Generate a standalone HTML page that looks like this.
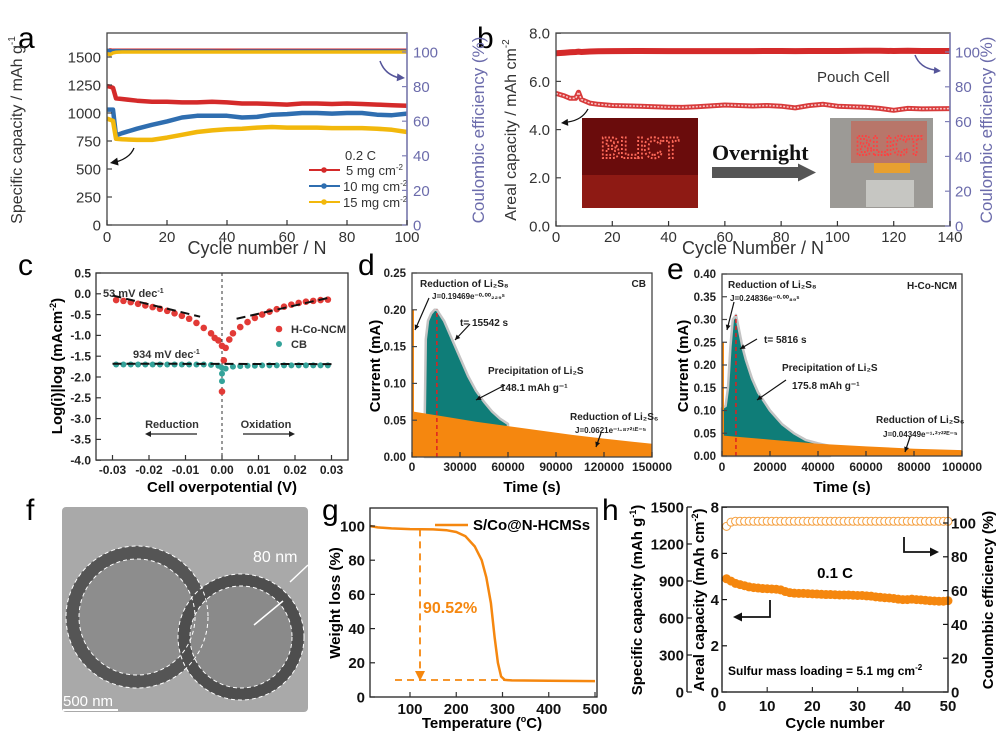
<!DOCTYPE html>
<html><head><meta charset="utf-8"><style>
html,body{margin:0;padding:0;background:#fff;}
svg{display:block;font-family:"Liberation Sans",Arial,sans-serif;}
.b{font-weight:bold;}
</style></head><body>
<svg id="fig" width="1001" height="734" viewBox="0 0 1001 734">
<rect x="0" y="0" width="1001" height="734" fill="#fff"/>
<text x="18" y="48" font-size="30">a</text>
<text x="477" y="48" font-size="30">b</text>
<text x="18" y="275" font-size="30">c</text>
<text x="358" y="275" font-size="30">d</text>
<text x="667" y="279" font-size="30">e</text>
<text x="26" y="520" font-size="30">f</text>
<text x="322" y="520" font-size="30">g</text>
<text x="602" y="520" font-size="30">h</text>

<text transform="rotate(-90 22 130)" x="22" y="130" font-size="16" fill="#333" text-anchor="middle">Specific capacity / mAh g<tspan font-size="10" dy="-7">-1</tspan></text>
<text transform="rotate(-90 484 130)" x="484" y="130" font-size="17" fill="#6b6bab" text-anchor="middle">Coulombic efficiency (%)</text>
<text x="257" y="254" font-size="18" fill="#333" text-anchor="middle">Cycle number / N</text>
<text x="345" y="160" font-size="13" fill="#333">0.2 C</text>
<text x="346" y="175" font-size="13" fill="#333">5 mg cm<tspan font-size="8" dy="-5">-2</tspan></text>
<text x="343" y="191" font-size="13" fill="#333">10 mg cm<tspan font-size="8" dy="-5">-2</tspan></text>
<text x="343" y="207" font-size="13" fill="#333">15 mg cm<tspan font-size="8" dy="-5">-2</tspan></text>

<text transform="rotate(-90 516 130)" x="516" y="130" font-size="16" fill="#333" text-anchor="middle">Areal capacity / mAh cm<tspan font-size="10" dy="-7">-2</tspan></text>
<text transform="rotate(-90 992 130)" x="992" y="130" font-size="17" fill="#6b6bab" text-anchor="middle">Coulombic efficiency (%)</text>
<text x="753" y="254" font-size="18" fill="#333" text-anchor="middle">Cycle Number / N</text>
<text x="817" y="82" font-size="15" fill="#333">Pouch Cell</text>

<text transform="rotate(-90 62 366)" x="62" y="366" font-size="15" class="b" text-anchor="middle">Log(i)|log (mAcm<tspan font-size="9" dy="-6">-2</tspan><tspan dy="6">)</tspan></text>
<text x="222" y="492" font-size="15" class="b" text-anchor="middle">Cell overpotential (V)</text>
<text x="103" y="297" font-size="11" class="b" fill="#333">53 mV dec<tspan font-size="7" dy="-4">-1</tspan></text>
<text x="133" y="358" font-size="11" class="b" fill="#333">934 mV dec<tspan font-size="7" dy="-4">-1</tspan></text>
<text x="291" y="333" font-size="11" class="b" fill="#333">H-Co-NCM</text>
<text x="291" y="348" font-size="11" class="b" fill="#333">CB</text>
<text x="172" y="428" font-size="11" class="b" fill="#333" text-anchor="middle">Reduction</text>
<text x="266" y="428" font-size="11" class="b" fill="#333" text-anchor="middle">Oxidation</text>

<text transform="rotate(-90 380 366)" x="380" y="366" font-size="15" class="b" text-anchor="middle">Current (mA)</text>
<text x="532" y="492" font-size="15" class="b" text-anchor="middle">Time (s)</text>

<text transform="rotate(-90 688 366)" x="688" y="366" font-size="15" class="b" text-anchor="middle">Current (mA)</text>
<text x="842" y="492" font-size="15" class="b" text-anchor="middle">Time (s)</text>

<g>
<rect x="62" y="507" width="246" height="205" rx="4" fill="#a9a9a9"/>
<circle cx="137" cy="617" r="71" fill="#555"/>
<circle cx="137" cy="617" r="58" fill="#8d8d8d"/>
<circle cx="241" cy="637" r="63" fill="#4e4e4e"/>
<circle cx="241" cy="637" r="51" fill="#8a8a8a"/>
<circle cx="137" cy="617" r="71" fill="none" stroke="#fff" stroke-dasharray="4 3" stroke-width="1"/>
<circle cx="137" cy="617" r="58" fill="none" stroke="#fff" stroke-dasharray="4 3" stroke-width="1"/>
<circle cx="241" cy="637" r="63" fill="none" stroke="#fff" stroke-dasharray="4 3" stroke-width="1"/>
<circle cx="241" cy="637" r="51" fill="none" stroke="#fff" stroke-dasharray="4 3" stroke-width="1"/>
<text x="253" y="562" font-size="16" fill="#fff">80 nm</text>
<line x1="308" y1="565" x2="290" y2="582" stroke="#fff" stroke-width="1.5"/>
<line x1="254" y1="625" x2="283" y2="601" stroke="#fff" stroke-width="1.5"/>
<text x="63" y="706" font-size="15" fill="#fff">500 nm</text>
<line x1="63" y1="710" x2="118" y2="710" stroke="#fff" stroke-width="2"/>
</g>

<text transform="rotate(-90 340 603)" x="340" y="603" font-size="15" class="b" text-anchor="middle">Weight loss (%)</text>
<text x="482" y="728" font-size="15" class="b" text-anchor="middle">Temperature (<tspan font-size="9" dy="-6">o</tspan><tspan dy="6">C)</tspan></text>
<text x="473" y="530" font-size="15" class="b">S/Co@N-HCMSs</text>
<text x="423" y="613" font-size="16" class="b" fill="#f5870f">90.52%</text>

<text transform="rotate(-90 642 600)" x="642" y="600" font-size="15" class="b" text-anchor="middle">Specific capacity (mAh g<tspan font-size="9" dy="-6">-1</tspan><tspan dy="6">)</tspan></text>
<text transform="rotate(-90 704 600)" x="704" y="600" font-size="15" class="b" text-anchor="middle">Areal capacity (mAh cm<tspan font-size="9" dy="-6">-2</tspan><tspan dy="6">)</tspan></text>
<text transform="rotate(-90 993 600)" x="993" y="600" font-size="15" class="b" text-anchor="middle">Coulombic efficiency (%)</text>
<text x="835" y="728" font-size="15" class="b" text-anchor="middle">Cycle number</text>
<text x="835" y="578" font-size="15" class="b" text-anchor="middle">0.1 C</text>
<text x="728" y="675" font-size="12" class="b">Sulfur mass loading = 5.1 mg cm<tspan font-size="8" dy="-5">-2</tspan></text>
</svg>
<script>
const aCycles=[0,1,2,3,5,10,15,20,25,30,35,40,45,50,55,60,65,70,75,80,85,90,95,100];
const aRed=[1240,1235,1225,1130,1125,1110,1100,1100,1095,1095,1100,1095,1085,1085,1080,1075,1085,1085,1080,1085,1080,1075,1070,1065];
const aBlue=[1030,1030,1030,800,820,860,895,925,960,975,975,975,960,965,985,990,1000,1000,995,1000,1000,985,980,995];
const aYellow=[950,940,930,770,765,760,760,780,805,830,845,855,860,870,875,870,870,870,865,865,865,860,850,830];
const aCERed=[100.5,101.2,101,101,101,101,101,101,101,101,101,101,101,101,101,101,101,101,101,101,101,101,101,101];
const aCEBlue=[101,100.8,100.5,100.8,100.6,100.5,100.5,100.5,100.5,100.5,100.5,100.3,100.5,100.5,100.5,100.5,100.5,100.5,100.5,100.5,100.5,100.5,100.5,100.5];
const aCEYellow=[99,98.5,99.5,99.8,100,100,100,100,100,100,100,100,100,100,100,100,100,100,100,100,100,100,100,100];
const aLeftTicks=[0,250,500,750,1000,1250,1500];
const aRightTicks=[0,20,40,60,80,100];
const aXTicks=[0,20,40,60,80,100];

const bCycles=[0,3,5,7,8,9,12,15,20,30,40,45,50,60,70,75,80,85,90,95,100,110,115,120,125,130,140];
const bCap=[5.5,5.4,5.3,5.3,5.55,5.25,5.1,5.05,5.0,4.97,4.93,4.92,4.95,5.02,4.98,5.0,4.97,4.9,5.0,5.05,4.97,4.93,4.88,4.8,4.88,4.86,4.87];
const bCE=[99.3,99.6,99.8,100,100.2,100,100.3,100.4,100.5,100.6,100.5,100.5,100.5,100.5,100.5,100.6,100.6,100.5,100.6,100.6,100.6,100.7,100.7,100.6,100.7,100.6,100.6];
const bLeftTicks=[0,2,4,6,8];
const bLeftLabels=['0.0','2.0','4.0','6.0','8.0'];
const bRightTicks=[0,20,40,60,80,100];
const bXTicks=[0,20,40,60,80,100,120,140];

const cXr=[-0.029,-0.027,-0.025,-0.023,-0.021,-0.019,-0.017,-0.015,-0.013,-0.011,-0.009,-0.007,-0.005,-0.003,-0.002,-0.001,0,0,0.0005,0.001,0.002,0.003,0.005,0.007,0.009,0.011,0.013,0.015,0.017,0.019,0.021,0.023,0.025,0.027,0.029];
const cYr=[-0.15,-0.17,-0.2,-0.24,-0.28,-0.32,-0.36,-0.41,-0.47,-0.53,-0.6,-0.7,-0.82,-0.95,-1.06,-1.12,-1.25,-2.35,-1.6,-1.3,-1.1,-0.95,-0.8,-0.68,-0.58,-0.5,-0.43,-0.37,-0.31,-0.26,-0.22,-0.19,-0.17,-0.15,-0.14];
const cXb=[-0.029,-0.027,-0.025,-0.023,-0.021,-0.019,-0.017,-0.015,-0.013,-0.011,-0.009,-0.007,-0.005,-0.003,-0.001,0,0,0,0.001,0.003,0.005,0.007,0.009,0.011,0.013,0.015,0.017,0.019,0.021,0.023,0.025,0.027,0.029];
const cYb=[-1.7,-1.7,-1.7,-1.7,-1.7,-1.7,-1.7,-1.7,-1.7,-1.7,-1.7,-1.7,-1.7,-1.71,-1.73,-1.78,-1.92,-2.1,-1.8,-1.75,-1.74,-1.73,-1.73,-1.72,-1.72,-1.72,-1.72,-1.72,-1.72,-1.72,-1.72,-1.72,-1.72];
const cFitLX=[-0.03,-0.006], cFitLY=[-0.04,-0.55];
const cFitRX=[0.004,0.03], cFitRY=[-0.6,-0.08];
const cFitBX=[-0.03,0.03], cFitBY=[-1.68,-1.69];
const cYTicks=[0.5,0,-0.5,-1,-1.5,-2,-2.5,-3,-3.5,-4];
const cYLabels=['0.5','0.0','-0.5','-1.0','-1.5','-2.0','-2.5','-3.0','-3.5','-4.0'];
const cXTicks=[-0.03,-0.02,-0.01,0,0.01,0.02,0.03];
const cXLabels=['-0.03','-0.02','-0.01','0.00','0.01','0.02','0.03'];

const dOrangeT=[0,20000,40000,60000,80000,100000,120000,150000];
const dOrangeV=[0.062,0.055,0.048,0.042,0.036,0.030,0.025,0.018];
const dTealT=[8000,8600,10000,12000,14000,15542,17000,20000,25000,30000,35000,40000,45000,50000,55000,60000];
const dTealV=[0.06,0.16,0.185,0.195,0.2,0.2,0.195,0.185,0.16,0.135,0.11,0.09,0.075,0.062,0.052,0.045];
const dPeakT=15542, dPeakV=0.2, dSpikeV=0.2;
const dYTicks=[0,0.05,0.1,0.15,0.2,0.25];
const dXTicks=[0,30000,60000,90000,120000,150000];

const eOrangeT=[0,20000,40000,60000,80000,100000];
const eOrangeV=[0.045,0.036,0.027,0.021,0.016,0.013];
const eTealT=[0,1500,2500,3500,4500,5816,7000,8500,10000,12500,15000,20000,25000,30000,35000,40000,45000];
const eTealV=[0.105,0.11,0.15,0.24,0.3,0.31,0.28,0.24,0.21,0.17,0.14,0.1,0.07,0.05,0.035,0.028,0.022];
const ePeakT=5816, ePeakV=0.31, eSpikeV=0.25;
const eYTicks=[0,0.05,0.1,0.15,0.2,0.25,0.3,0.35,0.4];
const eXTicks=[0,20000,40000,60000,80000,100000];

const gT=[13,30,60,100,150,180,200,220,240,255,265,275,283,290,297,305,320,400,500];
const gW=[100,99.2,98.6,98.2,98,97.5,96.5,94,88,80,70,55,35,20,12,10,9.7,9.5,9.3];
const gYTicks=[0,20,40,60,80,100];
const gXTicks=[100,200,300,400,500];

const hAreal=[4.9,4.8,4.7,4.65,4.6,4.55,4.52,4.5,4.48,4.47,4.46,4.45,4.42,4.35,4.3,4.28,4.27,4.27,4.26,4.25,4.24,4.23,4.22,4.22,4.21,4.2,4.2,4.2,4.19,4.18,4.18,4.16,4.15,4.12,4.1,4.08,4.07,4.05,4.02,4.0,4.0,4.02,4.0,3.99,3.97,3.95,3.94,3.93,3.93,3.95];
const hCE=[98,100.5,101,101,101,101,101,101,101,101,101,101,101,101,101,101,101,101,101,101,101,101,101,101,101,101,101,101,101,101,101,101,101,101,101,101,101,101,101,101,101,101,101,101,101,101,101,101,101,101];
const hSpecTicks=[0,300,600,900,1200,1500];
const hArealTicks=[0,2,4,6,8];
const hRightTicks=[0,20,40,60,80,100];
const hXTicks=[0,10,20,30,40,50];

const NS='http://www.w3.org/2000/svg';
const svg=document.getElementById('fig');
function el(tag,a,p){const e=document.createElementNS(NS,tag);for(const k in a)e.setAttribute(k,a[k]);(p||svg).appendChild(e);return e;}
function nm(e,n,i){


return e;}
function txt(x,y,s,a){const e=el('text',Object.assign({x:x,y:y},a));e.textContent=s;return e;}
function pts(xs,ys,sx,sy){return xs.map((v,i)=>sx(v).toFixed(1)+','+sy(ys[i]).toFixed(1)).join(' ');}
function yTicks(vals,labels,X,sc,dir,lx,anchor,fs,fw,fill,stroke,name){
  vals.forEach((v,i)=>{const y=sc(v);
    const t=el('line',{x1:X,x2:X+dir*5,y1:y,y2:y,stroke:stroke,'stroke-width':1.2});
    nm(t,name+'-tick');
    const l=txt(lx,y+fs*0.36,labels[i],{'text-anchor':anchor,'font-size':fs,'font-weight':fw,fill:fill});
    nm(l,name+'-tick-label');});
}
function xTicks(vals,labels,Y,sc,ly,fs,fw,fill,name){
  vals.forEach((v,i)=>{const x=sc(v);
    const t=el('line',{x1:x,x2:x,y1:Y,y2:Y-5,stroke:'#333','stroke-width':1.2});
    nm(t,name+'-tick');
    const l=txt(x,ly,labels[i],{'text-anchor':'middle','font-size':fs,'font-weight':fw,fill:fill});
    nm(l,name+'-tick-label');});
}
function frame(x1,y1,x2,y2,name,stroke){const r=el('rect',{x:x1,y:y1,width:x2-x1,height:y2-y1,fill:'none',stroke:stroke||'#333','stroke-width':1.3});nm(r,name);return r;}
function arrowHead(x,y,ang,size,fill,name){const a=ang*Math.PI/180;const p=[[x,y],[x-size*Math.cos(a)+size*0.5*Math.sin(a),y-size*Math.sin(a)-size*0.5*Math.cos(a)],[x-size*Math.cos(a)-size*0.5*Math.sin(a),y-size*Math.sin(a)+size*0.5*Math.cos(a)]];const e=el('polygon',{points:p.map(q=>q.join(',')).join(' '),fill:fill});nm(e,name);return e;}

// panel a
const xa=c=>107+c*3.0, ya=v=>225-v*(168/1500), yaR=p=>225-p*1.73;
[[aCERed,'#d42a2a'],[aCEBlue,'#2f6eb0'],[aCEYellow,'#f2b80c']].forEach((s,i)=>{
  const l=el('polyline',{points:pts(aCycles,s[0],xa,yaR),fill:'none',stroke:s[1],'stroke-width':3.5});
  nm(l,'a-ce-line-'+['5mg','10mg','15mg'][i]);});
[[aRed,'#d42a2a','5mg'],[aBlue,'#2f6eb0','10mg'],[aYellow,'#f2b80c','15mg']].forEach(s=>{
  const l=el('polyline',{points:pts(aCycles,s[0],xa,ya),fill:'none',stroke:s[1],'stroke-width':4.5,'stroke-linejoin':'round'});
  nm(l,'a-capacity-line-'+s[2]);});
frame(107,33,407,225,'a-plot-frame','#444');
const aRA=el('line',{x1:407,y1:33,x2:407,y2:225,stroke:'#8080b8','stroke-width':1.5});
nm(aRA,'a-right-axis-line');
yTicks(aLeftTicks,aLeftTicks.map(String),107,ya,1,101,'end',15,'normal','#333','#444','a-left-axis');
yTicks(aRightTicks,aRightTicks.map(String),407,yaR,-1,413,'start',15,'normal','#6b6bab','#8080b8','a-right-axis');
xTicks(aXTicks,aXTicks.map(String),225,xa,242,15,'normal','#333','a-x-axis');
[['#d42a2a',170,'5mg'],['#2f6eb0',186,'10mg'],['#f2b80c',202,'15mg']].forEach(s=>{
  const l=el('line',{x1:309,y1:s[1],x2:340,y2:s[1],stroke:s[0],'stroke-width':2});
  nm(l,'a-legend-line-'+s[2]);
  const c=el('circle',{cx:324,cy:s[1],r:2.8,fill:s[0]});
  nm(c,'a-legend-marker-'+s[2]);});
const aArr1=el('path',{d:'M134,148 Q130,158 116,162',fill:'none',stroke:'#111','stroke-width':1.3});
nm(aArr1,'a-capacity-arrow');
arrowHead(110,163,170,8,'#111','a-capacity-arrowhead');
const aArr2=el('path',{d:'M380,61 Q385,75 400,78',fill:'none',stroke:'#55559a','stroke-width':1.5});
nm(aArr2,'a-ce-arrow');
arrowHead(405,78,5,8,'#55559a','a-ce-arrowhead');

// panel b
const xb=c=>556+c*(394/140), yb=v=>226-v*24.1, ybR=p=>226-p*1.74;
const bCEl=el('polyline',{points:pts(bCycles,bCE,xb,ybR),fill:'none',stroke:'#d42a2a','stroke-width':6});
nm(bCEl,'b-ce-line');
const bCapO=el('polyline',{points:pts(bCycles,bCap,xb,yb),fill:'none',stroke:'#d83a3a','stroke-width':5,'stroke-linejoin':'round'});
nm(bCapO,'b-capacity-line');
const bCapI=el('polyline',{points:pts(bCycles,bCap,xb,yb),fill:'none',stroke:'#f6c8c8','stroke-width':1.6,'stroke-dasharray':'2 1.5'});
nm(bCapI,'b-capacity-line-markers');
frame(556,33,950,226,'b-plot-frame','#444');
const bRA=el('line',{x1:950,y1:33,x2:950,y2:226,stroke:'#8080b8','stroke-width':1.5});
nm(bRA,'b-right-axis-line');
yTicks(bLeftTicks,bLeftLabels,556,yb,1,550,'end',15,'normal','#333','#444','b-left-axis');
yTicks(bRightTicks,bRightTicks.map(String),950,ybR,-1,955,'start',15,'normal','#6b6bab','#8080b8','b-right-axis');
xTicks(bXTicks,bXTicks.map(String),226,xb,242,15,'normal','#333','b-x-axis');
const bArr1=el('path',{d:'M588,109 Q582,120 568,122',fill:'none',stroke:'#111','stroke-width':1.3});
nm(bArr1,'b-capacity-arrow');
arrowHead(561,123,175,7,'#111','b-capacity-arrowhead');
const bArr2=el('path',{d:'M915,55 Q920,68 935,70',fill:'none',stroke:'#55559a','stroke-width':1.5});
nm(bArr2,'b-ce-arrow');
arrowHead(941,71,5,7,'#55559a','b-ce-arrowhead');
const ph1=el('rect',{x:582,y:118,width:116,height:90,fill:'#6a0c0c'});
nm(ph1,'b-photo-before');
const ph1b=el('rect',{x:582,y:175,width:116,height:33,fill:'#8e1a14'});
nm(ph1b,'b-photo-before-table');
const t1=txt(640,158,'BLICT',{'text-anchor':'middle','font-size':30,'font-weight':'bold',fill:'none',stroke:'#ff6a5a','stroke-width':2,'stroke-dasharray':'2 2','textLength':78,'lengthAdjust':'spacingAndGlyphs'});
nm(t1,'b-led-text-before');
const arrB=el('rect',{x:712,y:167,width:88,height:11,fill:'#555'});
nm(arrB,'b-overnight-arrow-body');
arrowHead(816,172.5,0,18,'#555','b-overnight-arrowhead');
const ov=txt(712,160,'Overnight',{'font-size':22,'font-weight':'bold','font-family':'Liberation Serif, serif',fill:'#111'});
nm(ov,'b-overnight-label');
const ph2=el('rect',{x:830,y:118,width:103,height:90,fill:'#9c9a96'});
nm(ph2,'b-photo-after');
const ph2b=el('rect',{x:851,y:121,width:76,height:42,fill:'#b8766a'});
nm(ph2b,'b-photo-after-panel');
const ph2c=el('rect',{x:866,y:180,width:48,height:27,fill:'#c6c6c2'});
nm(ph2c,'b-photo-after-cell');
const ph2d=el('rect',{x:874,y:163,width:36,height:10,fill:'#e8a030'});
nm(ph2d,'b-photo-after-tape');
const t2=txt(889,155,'BLICT',{'text-anchor':'middle','font-size':28,'font-weight':'bold',fill:'none',stroke:'#ff4040','stroke-width':2,'stroke-dasharray':'2 2','textLength':66,'lengthAdjust':'spacingAndGlyphs'});
nm(t2,'b-led-text-after');

// panel c
const xc=v=>222+v*3650, yc=v=>273+(0.5-v)*41.6;
const cZero=el('line',{x1:222,y1:273,x2:222,y2:460,stroke:'#333','stroke-dasharray':'3 3'});
nm(cZero,'c-zero-line');
cXr.forEach((x,i)=>{const d=el('circle',{cx:xc(x),cy:yc(cYr[i]),r:3.3,fill:'#e23a36'});nm(d,'c-point-hconcm');});
cXb.forEach((x,i)=>{const d=el('circle',{cx:xc(x),cy:yc(cYb[i]),r:3,fill:'#34a39a'});nm(d,'c-point-cb');});
[[cFitLX,cFitLY,'c-fit-hconcm-reduction'],[cFitRX,cFitRY,'c-fit-hconcm-oxidation'],[cFitBX,cFitBY,'c-fit-cb']].forEach(f=>{
  const l=el('line',{x1:xc(f[0][0]),y1:yc(f[1][0]),x2:xc(f[0][1]),y2:yc(f[1][1]),stroke:'#111','stroke-width':2,'stroke-dasharray':'9 5'});nm(l,f[2]);});
frame(96,273,348,460,'c-plot-frame','#333');
yTicks(cYTicks,cYLabels,96,yc,1,91,'end',12,'bold','#222','#333','c-y-axis');
xTicks(cXTicks,cXLabels,460,xc,474,12,'bold','#222','c-x-axis');
const cL1=el('circle',{cx:279,cy:329,r:3.3,fill:'#e23a36'});nm(cL1,'c-legend-marker-hconcm');
const cL2=el('circle',{cx:279,cy:344,r:3,fill:'#34a39a'});nm(cL2,'c-legend-marker-cb');
const cA1=el('line',{x1:197,y1:434,x2:150,y2:434,stroke:'#222','stroke-width':1.2});nm(cA1,'c-reduction-arrow');
arrowHead(145,434,180,6,'#222','c-reduction-arrowhead');
const cA2=el('line',{x1:243,y1:434,x2:290,y2:434,stroke:'#222','stroke-width':1.2});nm(cA2,'c-oxidation-arrow');
arrowHead(295,434,0,6,'#222','c-oxidation-arrowhead');

// panels d & e
function chronoPanel(p,x0,x1,y0,y1,tmax,vmax,oT,oV,tT,tV,peakT,peakV,spikeV,yT,xT,lx){
  const sx=t=>x0+t*(x1-x0)/tmax, sy=v=>y1-v*(y1-y0)/vmax;
  const tp=el('polygon',{points:sx(tT[0])+','+sy(0)+' '+pts(tT,tV,sx,sy)+' '+sx(tT[tT.length-1])+','+sy(0),fill:'#0f7d78',stroke:'#c4c4c4','stroke-width':2.5,'stroke-linejoin':'round'});
  nm(tp,p+'-precipitation-area');
  const op=el('polygon',{points:sx(oT[0])+','+sy(0)+' '+pts(oT,oV,sx,sy)+' '+sx(oT[oT.length-1])+','+sy(0),fill:'#f5870f'});
  nm(op,p+'-li2s6-reduction-area');
  const sp=el('line',{x1:sx(0)+1,y1:sy(0),x2:sx(0)+1,y2:sy(spikeV),stroke:'#f5870f','stroke-width':2});
  nm(sp,p+'-li2s8-reduction-spike');
  const pk=el('line',{x1:sx(peakT),y1:sy(0),x2:sx(peakT),y2:sy(peakV),stroke:'#e02020','stroke-width':1.5,'stroke-dasharray':'4 3'});
  nm(pk,p+'-peak-marker');
  frame(x0,y0,x1,y1,p+'-plot-frame','#444');
  yTicks(yT,yT.map(v=>v.toFixed(2)),x0,sy,1,lx,'end',11.5,'bold','#222','#444',p+'-y-axis');
  xTicks(xT,xT.map(String),y1,sx,471,12,'bold','#222',p+'-x-axis');
}
chronoPanel('d',412,652,273,457,150000,0.25,dOrangeT,dOrangeV,dTealT,dTealV,dPeakT,dPeakV,dSpikeV,dYTicks,dXTicks,406);
chronoPanel('e',722,962,274,456,100000,0.40,eOrangeT,eOrangeV,eTealT,eTealV,ePeakT,ePeakV,eSpikeV,eYTicks,eXTicks,716);
function lab(x,y,s,fs,name,anchor){const t=txt(x,y,s,{'font-size':fs,'font-weight':'bold',fill:'#222','text-anchor':anchor||'start'});nm(t,name);return t;}
lab(420,287,'Reduction of Li\u2082S\u2088',10,'d-li2s8-label');
lab(432,299,'J=0.19469e\u207B\u2070\u00B7\u2070\u2070\u2082\u2082\u2089\u02E2',8,'d-li2s8-fit');
lab(646,287,'CB',10,'d-sample-label','end');
lab(460,326,'t= 15542 s',10,'d-peak-time-label');
lab(488,374,'Precipitation of Li\u2082S',10,'d-precip-label');
lab(500,391,'148.1 mAh g\u207B\u00B9',10,'d-precip-capacity');
lab(570,420,'Reduction of Li\u2082S\u2086',10,'d-li2s6-label');
lab(575,433,'J=0.0621e\u207B\u00B9\u00B7\u2078\u2077\u00B2\u00B9\u1D31\u207B\u2075',8,'d-li2s6-fit');
lab(728,288,'Reduction of Li\u2082S\u2088',10,'e-li2s8-label');
lab(730,301,'J=0.24836e\u207B\u2070\u00B7\u2070\u2070\u2088\u2089\u02E2',8,'e-li2s8-fit');
lab(957,289,'H-Co-NCM',10,'e-sample-label','end');
lab(764,343,'t= 5816 s',10,'e-peak-time-label');
lab(782,371,'Precipitation of Li\u2082S',10,'e-precip-label');
lab(792,389,'175.8 mAh g\u207B\u00B9',10,'e-precip-capacity');
lab(876,423,'Reduction of Li\u2082S\u2086',10,'e-li2s6-label');
lab(883,437,'J=0.04349e\u207B\u00B9\u00B7\u00B2\u2077\u00B2\u00B2\u1D31\u207B\u2075',8,'e-li2s6-fit');
[[429,298,415,330,'d-arrow-li2s8'],[470,324,455,340,'d-arrow-peak'],[505,385,476,400,'d-arrow-precip'],[601,433,596,447,'d-arrow-li2s6'],
 [734,302,727,330,'e-arrow-li2s8'],[757,339,740,349,'e-arrow-peak'],[786,380,757,400,'e-arrow-precip'],[910,437,905,452,'e-arrow-li2s6']].forEach(a=>{
  const l=el('line',{x1:a[0],y1:a[1],x2:a[2],y2:a[3],stroke:'#111','stroke-width':1.2});nm(l,a[4]);
  arrowHead(a[2],a[3],Math.atan2(a[3]-a[1],a[2]-a[0])*180/Math.PI,5,'#111',a[4]+'-head');});

// panel g
const xg=T=>363.75+T*0.4625, yg=w=>697-w*1.71;
const gl=el('polyline',{points:pts(gT,gW,xg,yg),fill:'none',stroke:'#f5870f','stroke-width':2.5,'stroke-linejoin':'round'});
nm(gl,'g-tga-curve');
const gv=el('line',{x1:420,y1:yg(98),x2:420,y2:672,stroke:'#f5870f','stroke-width':1.8,'stroke-dasharray':'7 5'});
nm(gv,'g-drop-arrow');
arrowHead(420,681,90,10,'#f5870f','g-drop-arrowhead');
const gh=el('line',{x1:395,y1:680,x2:510,y2:680,stroke:'#f5870f','stroke-width':1.8,'stroke-dasharray':'7 5'});
nm(gh,'g-residual-line');
const glg=el('line',{x1:435,y1:525,x2:468,y2:525,stroke:'#f5870f','stroke-width':2.5});
nm(glg,'g-legend-line');
frame(370,508,597,697,'g-plot-frame','#222');
yTicks(gYTicks,gYTicks.map(String),370,yg,1,365,'end',15,'bold','#111','#222','g-y-axis');
xTicks(gXTicks,gXTicks.map(String),697,xg,714,15,'bold','#111','g-x-axis');

// panel h
const xh=c=>722+c*4.52, yh=v=>692-v*23.1, yhR=p=>692-p*1.69, yhS=s=>692-s*(185/1500);
hCE.forEach((v,i)=>{const c=el('circle',{cx:xh(i+1),cy:yhR(v),r:4,fill:'#fff',stroke:'#f5a040','stroke-width':1});nm(c,'h-ce-marker');});
hAreal.forEach((v,i)=>{const c=el('circle',{cx:xh(i+1),cy:yh(v),r:4.5,fill:'#f5870f'});nm(c,'h-areal-capacity-marker');});
frame(722,507,948,692,'h-plot-frame','#111');
const hOut=el('line',{x1:687,y1:507,x2:687,y2:692,stroke:'#111','stroke-width':1.3});
nm(hOut,'h-specific-axis-line');
yTicks(hSpecTicks,hSpecTicks.map(String),687,yhS,1,684,'end',15,'bold','#111','#111','h-specific-axis');
yTicks(hArealTicks,hArealTicks.map(String),722,yh,1,719,'end',15,'bold','#111','#111','h-areal-axis');
yTicks(hRightTicks,hRightTicks.map(String),948,yhR,-1,951,'start',15,'bold','#111','#111','h-right-axis');
xTicks(hXTicks,hXTicks.map(String),692,xh,711,15,'bold','#111','h-x-axis');
const hA1=el('polyline',{points:'770,600 770,617 740,617',fill:'none',stroke:'#111','stroke-width':1.8});
nm(hA1,'h-left-arrow');
arrowHead(733,617,180,9,'#111','h-left-arrowhead');
const hA2=el('polyline',{points:'904,537 904,552 930,552',fill:'none',stroke:'#111','stroke-width':1.8});
nm(hA2,'h-right-arrow');
arrowHead(939,552,0,9,'#111','h-right-arrowhead');
</script>
</body></html>
